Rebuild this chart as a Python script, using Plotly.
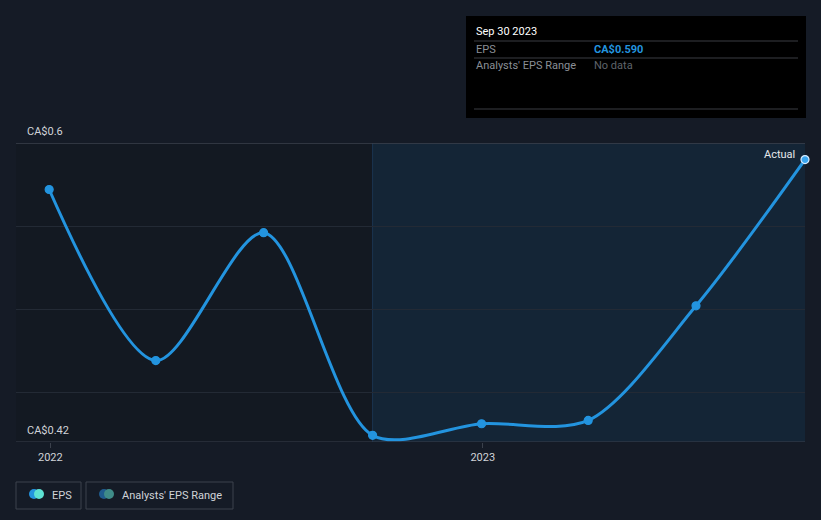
import plotly.graph_objects as go

dates = ["2021-12-31", "2022-03-31", "2022-06-30", "2022-09-30",
         "2022-12-31", "2023-03-31", "2023-06-30", "2023-09-30"]
eps = [0.572, 0.469, 0.546, 0.424, 0.431, 0.433, 0.502, 0.590]
x_tick_vals = ["2022-01-01", "2023-01-01"]
x_tick_text = ["2022", "2023"]
y_grid_vals = [0.45, 0.50, 0.55]
y_min, y_max = 0.42, 0.60
forecast_start = "2022-09-30"
x_start, x_end = "2021-12-03", "2023-09-30"

BG = "#151b26"
PLOT_BG = "#131922"
LINE = "#2394df"
FONT = "Roboto"

# plot area in pixels
L, R, T, B = 16, 805, 143, 442
W, H = 821, 520


def px(x):
    return (x - L) / (R - L)


def py(y):
    return (B - y) / (B - T)


fig = go.Figure()

marker_colors = [LINE] * (len(eps) - 1) + ["#3aa6f0"]
marker_lines = [LINE] * (len(eps) - 1) + ["#d8ecff"]

fig.add_trace(go.Scatter(
    x=dates, y=eps, mode="lines+markers",
    line=dict(color=LINE, width=3, shape="spline", smoothing=0.85),
    marker=dict(size=8, color=marker_colors, line=dict(color=marker_lines, width=1.2)),
    hoverinfo="skip", showlegend=False, cliponaxis=False,
))

shapes = []
# forecast shaded region
shapes.append(dict(type="rect", xref="x", yref="paper", x0=forecast_start, x1=x_end,
                   y0=0, y1=1, fillcolor="#142536", line_width=0, layer="below"))
shapes.append(dict(type="line", xref="x", yref="paper", x0=forecast_start, x1=forecast_start,
                   y0=0, y1=1, line=dict(color="#1b3450", width=1), layer="below"))
# top and bottom lines
shapes.append(dict(type="line", xref="paper", yref="y", x0=0, x1=1, y0=y_max, y1=y_max,
                   line=dict(color="#3b414c", width=1.5)))
shapes.append(dict(type="line", xref="paper", yref="y", x0=0, x1=1, y0=y_min, y1=y_min,
                   line=dict(color="#3b414c", width=1.2)))

# tooltip box
shapes.append(dict(type="rect", xref="paper", yref="paper", x0=px(466), x1=px(806),
                   y0=py(118), y1=py(16), fillcolor="#000000", line_width=0))
for yy in (41, 58, 109):
    shapes.append(dict(type="line", xref="paper", yref="paper", x0=px(474), x1=px(798),
                       y0=py(yy), y1=py(yy), line=dict(color="#3a3d42", width=1)))

# legend boxes
for x0, x1 in ((16, 81), (86, 233)):
    shapes.append(dict(type="rect", xref="paper", yref="paper", x0=px(x0), x1=px(x1),
                       y0=py(509), y1=py(482), line=dict(color="#3c424c", width=1),
                       fillcolor="rgba(0,0,0,0)"))
for cx, col in ((34, "#2394df"), (39, "#5de2d3"), (104, "#1f5c8e"), (109, "#3f8c88")):
    shapes.append(dict(type="circle", xref="paper", yref="paper",
                       x0=px(cx - 5), x1=px(cx + 5), y0=py(499), y1=py(489),
                       fillcolor=col, line_width=0))

ann = []


def text(x, y, s, color, size=11, xanchor="left", bold=False):
    ann.append(dict(xref="paper", yref="paper", x=px(x), y=py(y), text=(f"<b>{s}</b>" if bold else s),
                    showarrow=False, xanchor=xanchor, yanchor="middle",
                    font=dict(color=color, size=size, family=FONT)))


text(25, 131, "CA$0.6", "#d0d3d8", 11)
text(25, 430, "CA$0.42", "#d0d3d8", 11)
text(797, 154, "Actual", "#e6e8eb", 11, xanchor="right")

text(474, 31, "Sep 30 2023", "#ffffff", 11)
text(474, 49, "EPS", "#8a8f96", 11)
text(592, 49, "CA$0.590", "#2394df", 11, bold=True)
text(474, 66, "Analysts' EPS Range", "#8a8f96", 11)
text(592, 66, "No data", "#5f646b", 11)

text(50, 495, "EPS", "#d0d3d8", 11)
text(120, 495, "Analysts' EPS Range", "#d0d3d8", 11)

fig.update_layout(
    width=W, height=H,
    margin=dict(l=L, r=W - R, t=T, b=H - B),
    paper_bgcolor=BG, plot_bgcolor=PLOT_BG,
    shapes=shapes, annotations=ann,
    xaxis=dict(range=[x_start, x_end], tickvals=x_tick_vals, ticktext=x_tick_text,
               showgrid=False, zeroline=False, ticks="outside", ticklen=5,
               tickcolor="#3b414c", tickfont=dict(color="#d0d3d8", size=11, family=FONT),
               showline=False),
    yaxis=dict(range=[y_min, y_max], tickvals=y_grid_vals, showticklabels=False,
               showgrid=True, gridcolor="#232a35", gridwidth=1, zeroline=False,
               fixedrange=True),
    font=dict(family=FONT),
)

fig.write_html("out.html")
